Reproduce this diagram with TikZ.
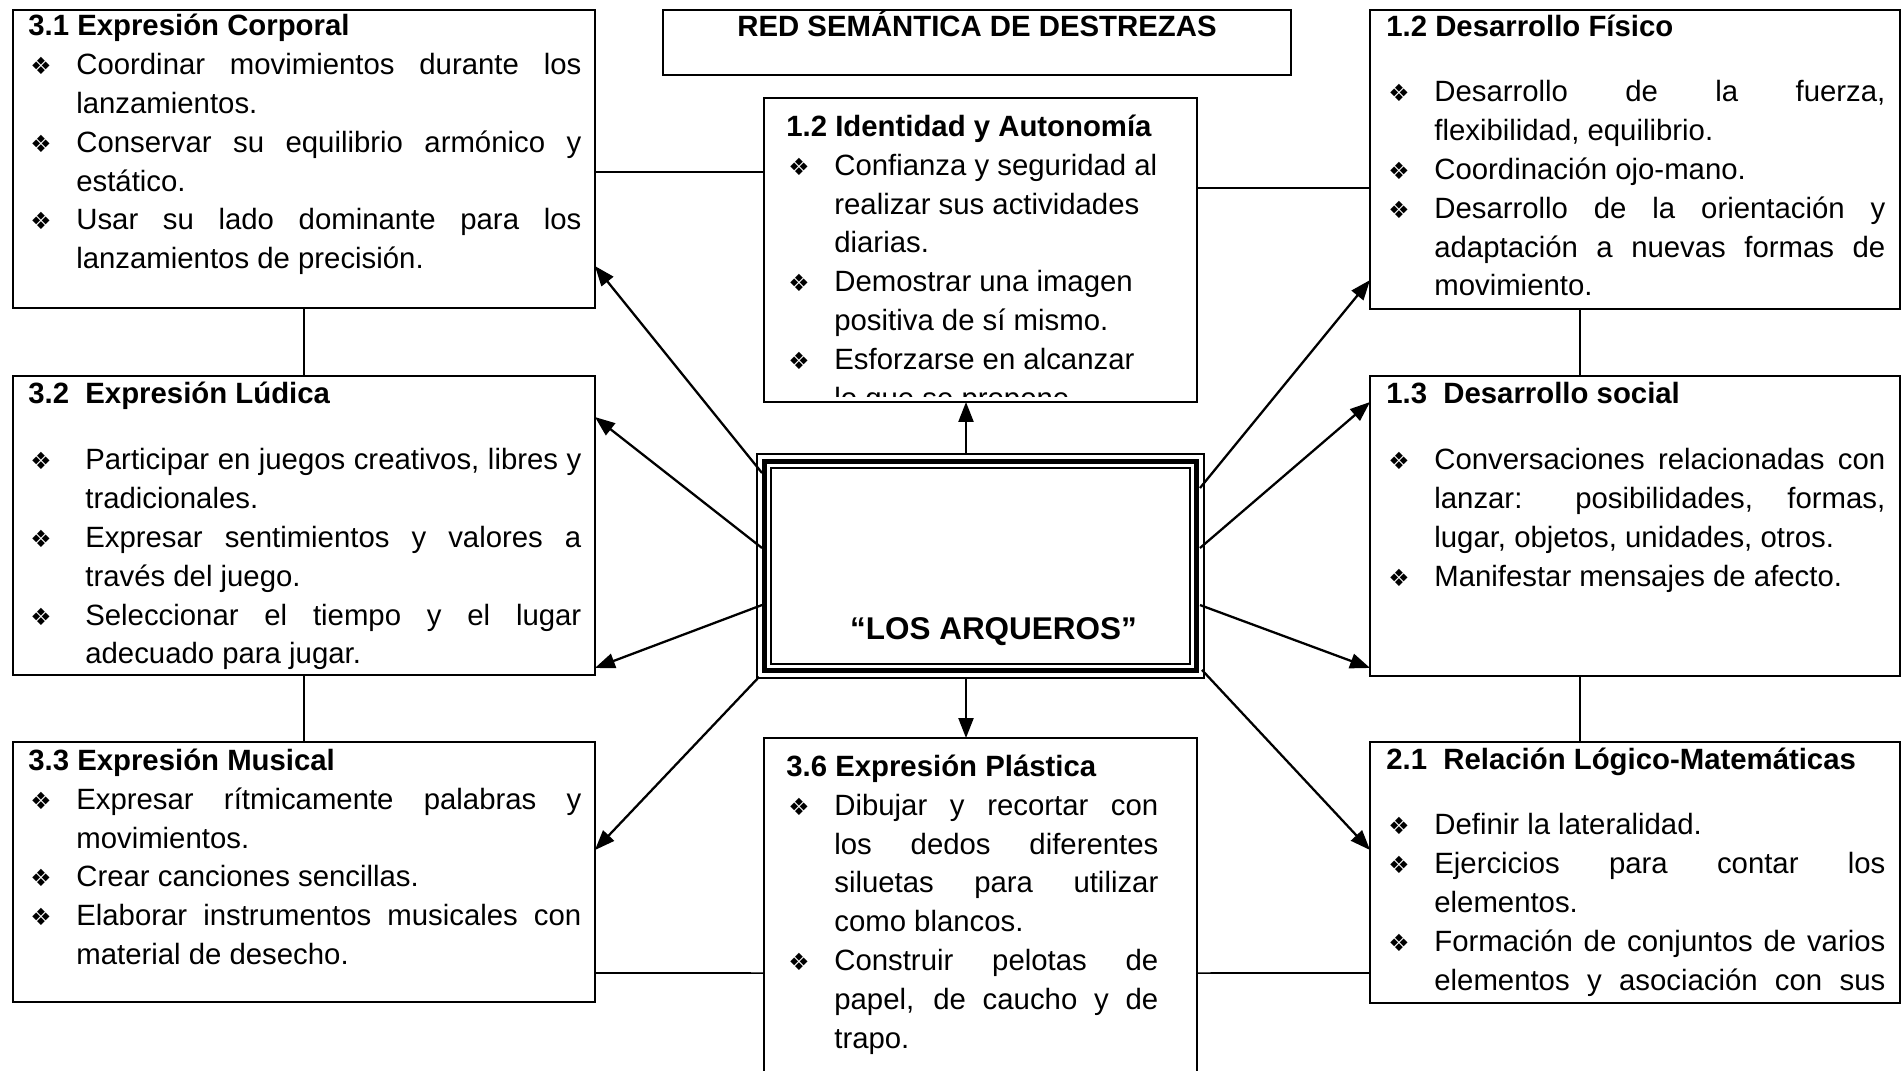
\documentclass[tikz,border=0pt]{standalone}
\usepackage{fontspec}
\setmainfont{Liberation Sans}
\newfontfamily\dingfont{DejaVu Sans}
\usetikzlibrary{arrows.meta, calc}
\newlength\px \setlength\px{0.02cm}
\newcommand\bodyfont{\fontsize{16.7}{22.08}\selectfont}
\newcommand\bul{{\dingfont\fontsize{13.5}{13.5}\selectfont ❖}}
\newcommand\hd[1]{\noindent\textbf{#1}\par}
\newcommand\itm[2][48]{\par\hangindent=#1\px\hangafter=1\noindent\makebox[#1\px][l]{\hspace{2\px}\bul}#2\par}
\tolerance=10000 \hyphenpenalty=10000 \exhyphenpenalty=10000
\tikzset{
  box/.style={draw, line width=1.1pt, inner sep=0pt, outer sep=0pt},
  txt/.style={inner sep=0pt, anchor=base west, font=\bodyfont},
  link/.style={line width=0.9pt},
  arr/.style={-{Triangle[length=0.4cm, width=0.3cm]}, line width=1.3pt},
}

\begin{document}
\begin{tikzpicture}[x=0.02cm, y=-0.02cm]
  \useasboundingbox (0,0) rectangle (1901,1071);
  % frames
  \node[box, minimum width=12.56cm, minimum height=1.3cm] (ttl) at (977,42.5) {};
  \node[box, minimum width=11.64cm, minimum height=5.96cm] (corp) at (304,159) {};
  \node[box, minimum width=8.66cm, minimum height=6.08cm] (ident) at (980.5,250) {};
  \node[box, minimum width=10.6cm, minimum height=5.98cm] (fis) at (1635,159.5) {};
  \node[box, minimum width=11.64cm, minimum height=5.98cm] (lud) at (304,525.5) {};
  \node[box, minimum width=10.6cm, minimum height=6cm] (soc) at (1635,526) {};
  \node[box, minimum width=11.64cm, minimum height=5.2cm] (mus) at (304,872) {};
  \node[box, minimum width=8.66cm, minimum height=7.24cm] (pla) at (980.5,919) {};
  \node[box, minimum width=10.6cm, minimum height=5.22cm] (rel) at (1635,872.5) {};
  % centre
  \node[box, line width=0.8pt, minimum width=8.94cm, minimum height=4.48cm] (arq) at (980.5,566) {};
  \draw[line width=0.1cm] ($(arq.north west)+(7,7)$) rectangle ($(arq.south east)+(-7,-7)$);
  \draw[line width=0.04cm] ($(arq.north west)+(14,14)$) rectangle ($(arq.south east)+(-14,-14)$);
  \node[font=\fontsize{17.9}{20}\selectfont\bfseries, anchor=base] (arq-t) at (993.5,639.5) {“LOS ARQUEROS”};
  \node[font=\bodyfont\bfseries, anchor=base] (ttl-t) at (977,37) {RED SEMÁNTICA DE DESTREZAS};
  % texts
  \node[txt] (corp-t) at (28,36) {\begin{minipage}[t]{553\px}
    \hd{3.1 Expresión Corporal}
    \itm{Coordinar movimientos durante los\linebreak lanzamientos.}
    \itm{Conservar su equilibrio armónico y\linebreak estático.}
    \itm{Usar su lado dominante para los\linebreak lanzamientos de precisión.}
  \end{minipage}};
  \begin{scope}
    \clip (ident.north west) rectangle ($(ident.south east)+(0,-5)$);
    \node[txt] (ident-t) at (786,136.5) {\begin{minipage}[t]{380\px}\raggedright
      \hd{1.2 Identidad y Autonomía}
      \itm{Confianza y seguridad al\linebreak realizar sus actividades\linebreak diarias.}
      \itm{Demostrar una imagen\linebreak positiva de sí mismo.}
      \itm{Esforzarse en alcanzar\linebreak lo que se propone}
    \end{minipage}};
  \end{scope}
  \node[txt] (fis-t) at (1386,36.5) {\begin{minipage}[t]{499\px}
    \hd{1.2 Desarrollo Físico}\vspace{26.6\px}
    \itm{Desarrollo de la fuerza,\linebreak flexibilidad, equilibrio.}
    \itm{Coordinación ojo-mano.}
    \itm{Desarrollo de la orientación y\linebreak adaptación a nuevas formas de\linebreak movimiento.}
  \end{minipage}};
  \node[txt] (lud-t) at (28,403.5) {\begin{minipage}[t]{553\px}
    \hd{3.2\ \ Expresión Lúdica}\vspace{27.7\px}
    \itm[57]{Participar en juegos creativos, libres y\linebreak tradicionales.}
    \itm[57]{Expresar sentimientos y valores a\linebreak través del juego.}
    \itm[57]{Seleccionar el tiempo y el lugar\linebreak adecuado para jugar.}
  \end{minipage}};
  \node[txt] (soc-t) at (1386,403.5) {\begin{minipage}[t]{499\px}
    \hd{1.3\ \ Desarrollo social}\vspace{27.7\px}
    \itm{Conversaciones relacionadas con\linebreak lanzar: posibilidades, formas,\linebreak lugar, objetos, unidades, otros.}
    \itm{Manifestar mensajes de afecto.}
  \end{minipage}};
  \node[txt] (mus-t) at (28,770.5) {\begin{minipage}[t]{553\px}
    \hd{3.3 Expresión Musical}
    \itm{Expresar rítmicamente palabras y\linebreak movimientos.}
    \itm{Crear canciones sencillas.}
    \itm{Elaborar instrumentos musicales con\linebreak material de desecho.}
  \end{minipage}};
  \node[txt] (pla-t) at (786,776.5) {\begin{minipage}[t]{372\px}
    \hd{3.6 Expresión Plástica}
    \itm{Dibujar y recortar con\linebreak los dedos diferentes\linebreak siluetas para utilizar\linebreak como blancos.}
    \itm{Construir pelotas de\linebreak papel, de caucho y de\linebreak trapo.}
  \end{minipage}};
  \node[txt] (rel-t) at (1386,769.5) {\begin{minipage}[t]{499\px}
    \hd{2.1\ \ Relación Lógico-Matemáticas}\vspace{26.6\px}
    \itm{Definir la lateralidad.}
    \itm{Ejercicios para contar los\linebreak elementos.}
    \itm{Formación de conjuntos de varios\linebreak elementos y asociación con sus\parfillskip=0pt}
  \end{minipage}};
  % plain links
  \draw[link] ($(corp.north east)+(0,162)$) -- ($(ident.north west)+(0,74)$);
  \draw[link] ($(ident.north east)+(0,90)$) -- ($(fis.north west)+(0,178)$);
  \draw[link] (corp.south) -- (lud.north);
  \draw[link] (lud.south) -- (mus.north);
  \draw[link] ($(fis.south)+(-55,0)$) -- ($(soc.north)+(-55,0)$);
  \draw[link] ($(soc.south)+(-55,0)$) -- ($(rel.north)+(-55,0)$);
  \draw[link] ($(mus.north east)+(0,231)$) -- ($(pla.north west)+(0,235)$);
  \draw[link] ($(pla.north east)+(0,235)$) -- ($(rel.north west)+(0,231)$);
  % arrows
  \draw[arr] ($(arq.north west)+(5,19)$) -- ($(corp.north east)+(0,256)$);
  \draw[arr] ($(arq.north west)+(5,94)$) -- ($(lud.north east)+(0,41)$);
  \draw[arr] ($(arq.north west)+(5,151)$) -- ($(lud.south east)+(0,-7)$);
  \draw[arr] ($(arq.south west)+(2,-1)$) -- ($(mus.north east)+(0,108)$);
  \draw[arr] ($(arq.north east)+(-4,34)$) -- ($(fis.north west)+(0,270)$);
  \draw[arr] ($(arq.north east)+(-4,94)$) -- ($(soc.north west)+(0,26)$);
  \draw[arr] ($(arq.north east)+(-4,151)$) -- ($(soc.south west)+(0,-8)$);
  \draw[arr] ($(arq.south east)+(-2,-8)$) -- ($(rel.north west)+(0,108)$);
  \draw[arr] ($(arq.north)+(-14.5,0)$) -- ($(ident.south)+(-14.5,0)$);
  \draw[arr] ($(arq.south)+(-14.5,0)$) -- ($(pla.north)+(-14.5,0)$);
\end{tikzpicture}
\end{document}
